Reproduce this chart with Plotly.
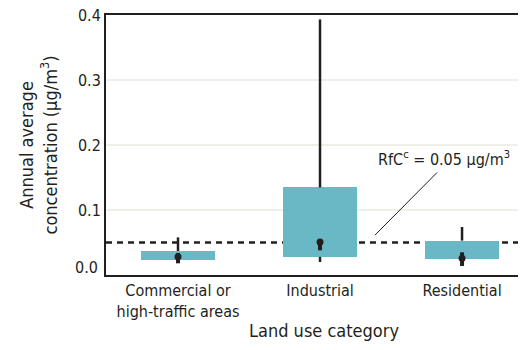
import plotly.graph_objects as go

categories = ["Commercial or<br>high-traffic areas", "Industrial", "Residential"]
whisker_low = [0.020, 0.020, 0.014]
q1 = [0.023, 0.028, 0.024]
q3 = [0.037, 0.135, 0.053]
whisker_high = [0.058, 0.394, 0.074]
median = [0.028, 0.051, 0.026]
median_lo = [0.018, 0.038, 0.014]
median_hi = [0.034, 0.055, 0.035]
rfc = 0.05

ink = "#231f20"
teal = "#68b9c5"
font = "DejaVu Sans Condensed, Roboto, sans-serif"

fig = go.Figure()

# interquartile boxes
fig.add_trace(go.Bar(x=categories, y=[b - a for a, b in zip(q1, q3)], base=q1,
                     marker=dict(color=teal, line=dict(width=0)), width=0.515))

# whiskers, only the parts outside the boxes
wx, wy = [], []
for c, lo, a, b, hi in zip(categories, whisker_low, q1, q3, whisker_high):
    wx += [c, c, None, c, c, None]
    wy += [lo, a, None, b, hi, None]
fig.add_trace(go.Scatter(x=wx, y=wy, mode="lines", line=dict(color=ink, width=2.5),
                         hoverinfo="skip"))

# median marks
mx, my = [], []
for c, lo, hi in zip(categories, median_lo, median_hi):
    mx += [c, c, None]
    my += [lo, hi, None]
fig.add_trace(go.Scatter(x=mx, y=my, mode="lines", line=dict(color=ink, width=4)))
fig.add_trace(go.Scatter(x=categories, y=median, mode="markers",
                         marker=dict(color=ink, size=7)))

fig.add_shape(type="line", xref="paper", x0=0, x1=1, y0=rfc, y1=rfc,
              line=dict(color=ink, width=2.5, dash="6px,5px"), layer="below")

fig.add_shape(type="line", x0=1.387, y0=0.0615, x1=1.824, y1=0.158,
              line=dict(color=ink, width=1))
fig.add_annotation(x=1.87, y=0.18, text="RfC<sup>c</sup> = 0.05 µg/m<sup>3</sup>",
                   showarrow=False, font=dict(size=16, color=ink, family=font))

fig.add_annotation(xref="paper", x=0, xanchor="right", xshift=-6, y=0, yshift=8,
                   text="0.0", showarrow=False, font=dict(size=16, color=ink, family=font))

fig.update_layout(
    width=534, height=350,
    margin=dict(l=98, r=0, t=7, b=83),
    plot_bgcolor="white", paper_bgcolor="white",
    showlegend=False,
    font=dict(family=font, color=ink, size=16),
    bargap=0,
)
fig.update_xaxes(type="category", range=[-0.507, 2.563], showline=True, linecolor=ink,
                 linewidth=2, mirror=True, ticks="", showgrid=False, automargin=False,
                 title=dict(text="Land use category", font=dict(size=18), standoff=4),
                 tickfont=dict(size=16))
fig.update_yaxes(range=[0, 0.4008], tickvals=[0.1, 0.2, 0.3, 0.4],
                 ticktext=["0.1", "0.2", "0.3", "0.4"], automargin=False,
                 ticklabeloverflow="allow",
                 showline=True, linecolor=ink, linewidth=2, ticks="",
                 showgrid=True, gridcolor="#efefea", gridwidth=2, zeroline=False,
                 title=dict(text="Annual average<br>concentration (µg/m<sup>3</sup>)",
                            font=dict(size=18), standoff=16),
                 tickfont=dict(size=16))

fig.write_html("out.html")
